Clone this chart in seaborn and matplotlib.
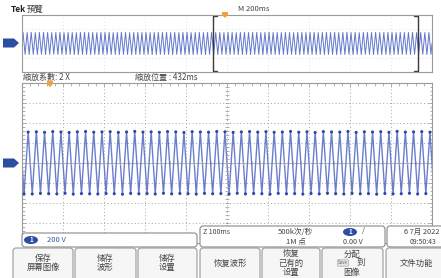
import numpy as np
import pandas as pd
import seaborn as sns
import matplotlib
matplotlib.use("Agg")
import matplotlib.pyplot as plt
import matplotlib.patches as mpatches
import matplotlib.transforms as mtransforms

# 50 Hz mains trace, 100 cycles captured over 2 s (M 200ms/div), 200 V/div
period = 0.02
peaks_v = [312, 308, 315, 306, 310, 314, 309, 305, 311, 316,
           307, 313, 310, 304, 312, 315, 308, 311, 306, 314,
           310, 313, 307, 312, 316, 309, 305, 311, 314, 308,
           312, 306, 310, 315, 309, 313, 307, 311, 304, 312,
           315, 308, 310, 313, 306, 311, 316, 309, 312, 307,
           314, 310, 305, 312, 315, 308, 311, 313, 306, 310,
           316, 309, 312, 307, 314, 311, 305, 313, 310, 308,
           315, 312, 306, 311, 314, 309, 313, 307, 310, 316,
           308, 312, 305, 314, 311, 309, 315, 306, 312, 310,
           313, 307, 316, 309, 311, 314, 308, 312, 306, 310]
troughs_v = [-306, -310, -303, -309, -305, -311, -307, -302, -308, -304,
             -310, -305, -308, -312, -304, -307, -309, -303, -311, -306,
             -304, -309, -306, -310, -303, -308, -312, -305, -307, -309,
             -305, -311, -307, -303, -309, -306, -310, -304, -308, -312,
             -306, -309, -303, -307, -311, -305, -308, -310, -304, -307,
             -309, -303, -311, -306, -308, -310, -305, -307, -312, -304,
             -308, -306, -310, -303, -309, -305, -307, -311, -304, -308,
             -306, -310, -303, -309, -305, -307, -312, -304, -308, -306,
             -311, -305, -309, -303, -307, -310, -304, -308, -306, -312,
             -305, -309, -307, -303, -310, -306, -308, -304, -311, -307]
volts_per_div = 200
zoom_window = (0.93, 1.93)   # seconds shown in the zoomed main view

buttons = [("保存\n屏幕图像", 13, 73), ("储存\n波形", 75, 136), ("储存\n设置", 138, 197),
           ("恢复波形", 200, 260), ("恢复\n已有的\n设置", 262, 320), (None, 322, 383),
           ("文件功能", 386, 446)]

# build the trace: zero, peak, zero, trough for each cycle
t, v = [], []
for k, (p, q) in enumerate(zip(peaks_v, troughs_v)):
    t0 = k * period
    t += [t0, t0 + period / 4, t0 + period / 2, t0 + 3 * period / 4]
    v += [0, p, 0, q]
t.append(len(peaks_v) * period)
v.append(0)
trace = pd.DataFrame({"t": t, "div": np.array(v) / volts_per_div})
pk = pd.DataFrame({"t": [k * period + period / 4 for k in range(len(peaks_v))] +
                        [k * period + 3 * period / 4 for k in range(len(troughs_v))],
                   "div": (np.array(peaks_v + troughs_v)) / volts_per_div})

sns.set_theme(style="white")
plt.rcParams["font.family"] = ["Noto Sans CJK SC", "DejaVu Sans"]

W, H = 441, 278
fig = plt.figure(figsize=(W / 100, H / 100), dpi=100)
fig.patch.set_facecolor("white")
pix = mtransforms.Affine2D().scale(1, -1).translate(0, H)  # pixel coords, origin top-left

def fa(x0, y0, x1, y1):
    return [x0 / W, 1 - y1 / H, (x1 - x0) / W, (y1 - y0) / H]

grid_col = "#a5a5a5"
trace_col = "#5068c4"
txt_col = "#444444"

# ---------------- overview (preview) ----------------
ov = fig.add_axes(fa(22, 15, 432, 72))
sns.lineplot(data=trace, x="t", y="div", ax=ov, sort=False, estimator=None,
             color="#6477cc", lw=0.7)
ov.set_xlim(0, 2)
ov.set_ylim(-4, 4)
ov.set_xticks(np.arange(0, 2.01, 0.2))
ov.set_yticks([-2, 2])
ov.grid(True, ls=(0, (1, 3)), color="#d6d6d6", lw=0.6)
ov.set_xticklabels([])
ov.set_yticklabels([])
ov.set_xlabel("")
ov.set_ylabel("")
ov.tick_params(length=0)
for s in ov.spines.values():
    s.set_color("#9a9a9a")
    s.set_linewidth(0.8)
a, b = zoom_window
ov.plot([a + 0.02, a, a, a + 0.02], [3.85, 3.85, -3.85, -3.85], color="#3a3a3a", lw=1.0)
ov.plot([b - 0.02, b, b, b - 0.02], [3.85, 3.85, -3.85, -3.85], color="#3a3a3a", lw=1.0)

# ---------------- main zoomed view ----------------
ax = fig.add_axes(fa(22, 83, 432, 243))
sns.lineplot(data=trace, x="t", y="div", ax=ax, sort=False, estimator=None,
             color=trace_col, lw=1.0, alpha=0.85, solid_joinstyle="round")
sns.scatterplot(data=pk, x="t", y="div", ax=ax, color="#2c46a2", s=5,
                edgecolor="none", zorder=3)
ax.set_xlim(*zoom_window)
ax.set_ylim(-4, 4)
xmaj = np.linspace(a, b, 11)
ax.set_xticks(xmaj)
ax.set_xticks(np.linspace(a, b, 51), minor=True)
ax.set_yticks(np.arange(-4, 5, 1))
ax.set_yticks(np.arange(-4, 4.01, 0.2), minor=True)
ax.grid(True, which="major", ls=(0, (1, 2.5)), color=grid_col, lw=0.7)
ax.set_xticklabels([])
ax.set_yticklabels([])
ax.set_xlabel("")
ax.set_ylabel("")
ax.tick_params(which="both", direction="in", color=grid_col, top=True, right=True,
               bottom=True, left=True, width=0.6)
ax.tick_params(which="major", length=3)
ax.tick_params(which="minor", length=1.8)
for s in ax.spines.values():
    s.set_color("#9a9a9a")
    s.set_linewidth(0.8)
xc = (a + b) / 2
ax.plot(np.linspace(a, b, 51), np.zeros(51), ls="none", marker="|", ms=2.5,
        color=grid_col, mew=0.6)
ax.plot(np.full(41, xc), np.arange(-4, 4.01, 0.2), ls="none", marker="_", ms=2.5,
        color=grid_col, mew=0.6)
ax.axhline(0, color="#b0b0b0", lw=0.6, zorder=1)

# ---------------- markers ----------------
def chan_marker(yc, h):
    pts = [(3, yc - h), (14, yc - h), (19, yc), (14, yc + h), (3, yc + h)]
    fig.patches.append(mpatches.Polygon(pts, closed=True, transform=pix,
                                        facecolor="#2b4ea2", edgecolor="none"))
chan_marker(163, 4.5)
chan_marker(43, 4.5)

def trig_marker(xc, yc):
    pts = [(xc - 3, yc - 3), (xc + 3, yc - 3), (xc + 3, yc), (xc, yc + 3), (xc - 3, yc)]
    fig.patches.append(mpatches.Polygon(pts, closed=True, transform=pix,
                                        facecolor="#f2a03a", edgecolor="none"))
trig_marker(225, 15)
trig_marker(50, 84)

# ---------------- header texts ----------------
def T(x, y, s, **kw):
    kw.setdefault("color", txt_col)
    kw.setdefault("fontsize", 5.5)
    kw.setdefault("va", "center")
    fig.text(x, y, s, transform=pix, **kw)

T(11, 9, "Tek", fontsize=6, fontweight="bold", color="#222222")
T(27, 9, "預覽", fontsize=6)
T(238, 9, "M 200ms", fontsize=5.5)
T(23, 77, "縮放系數: 2 X", fontsize=5.8)
T(135, 77, "縮放位置 : 432ms", fontsize=5.8)

# ---------------- readout boxes ----------------
def box(x0, y0, x1, y1, fc="white", ec="#8a8a8a", r=3):
    fig.patches.append(mpatches.FancyBboxPatch((x0, y0), x1 - x0, y1 - y0,
                                               boxstyle=f"round,pad=0,rounding_size={r}",
                                               transform=pix, facecolor=fc, edgecolor=ec,
                                               lw=0.8))

def badge(xc, yc):
    fig.patches.append(mpatches.Ellipse((xc, yc), 14, 8, transform=pix,
                                        facecolor="#2b4ea2", edgecolor="none"))
    T(xc, yc, "1", fontsize=4.5, color="white", ha="center", fontweight="bold")

box(22, 233, 197, 247)
badge(31, 240)
T(47, 240, "200 V", fontsize=5.5, color="#3a55b0")

box(200, 226, 385, 247)
T(203, 232, "Z 100ms", fontsize=5)
T(278, 232, "500k次/秒", fontsize=5.5)
T(286, 242, "1M 点", fontsize=5.5)
badge(350, 232)
T(362, 231, "/", fontsize=5.5)
T(343, 242, "0.00 V", fontsize=5.2)

box(387, 226, 447, 247)
T(404, 232, "6 7月 2022", fontsize=5.3)
T(410, 242, "09:50:43", fontsize=5)

# ---------------- soft buttons ----------------
for label, x0, x1 in buttons:
    box(x0, 248, x1, 284, fc="#f6f6f6", ec="#9a9a9a", r=3)
    if label is not None:
        T((x0 + x1) / 2, 263, label, fontsize=6, ha="center", linespacing=1.05)
T(352, 254, "分配", fontsize=6, ha="center")
T(343, 263, "Save", fontsize=3.2, ha="center", color="#666666",
  bbox=dict(boxstyle="round,pad=0.15", fc="#e4e4e4", ec="#999999", lw=0.4))
T(361, 263, "到", fontsize=6, ha="center")
T(352, 272, "图像", fontsize=6, ha="center")

fig.savefig("out.png", dpi=100, facecolor="white")
